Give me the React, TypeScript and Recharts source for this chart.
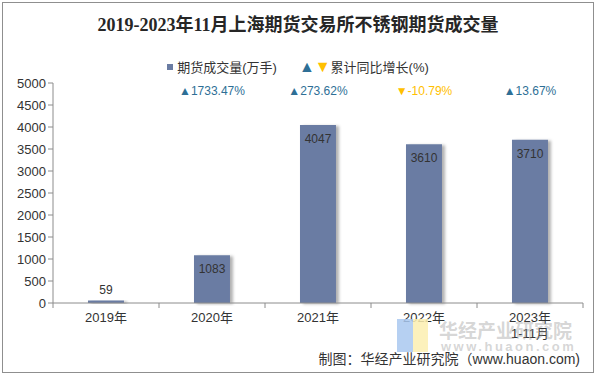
import { BarChart, Bar, XAxis, YAxis, LabelList } from "recharts";

const YEARS = ["2019年", "2020年", "2021年", "2022年", "2023年"];
const SUB_LABELS = ["", "", "", "", "1-11月"];
const VOLUME = [59, 1083, 4047, 3610, 3710];
const GROWTH: (number | null)[] = [null, 1733.47, 273.62, -10.79, 13.67];
const Y_TICKS = [0, 500, 1000, 1500, 2000, 2500, 3000, 3500, 4000, 4500, 5000];

const BAR_COLOR = "#6a7ca3";
const UP_COLOR = "#2e6f96";
const DOWN_COLOR = "#ffc000";
const TEXT_COLOR = "#333333";
const AXIS_COLOR = "#8c8c8c";

const W = 596;
const H = 375;
const PLOT_LEFT = 53;
const PLOT_RIGHT = 13;
const PLOT_TOP = 83;
const PLOT_BOTTOM = 72;
const BAND = (W - PLOT_LEFT - PLOT_RIGHT) / YEARS.length;
const GROWTH_ROW_Y = 91;

const data = YEARS.map((year, i) => ({
  year,
  sub: SUB_LABELS[i],
  volume: VOLUME[i],
  growth: GROWTH[i],
}));

const FONT = "'Liberation Sans', Arial, 'Noto Sans CJK SC', sans-serif";

function XTick(props: any) {
  const { x, y, payload, index } = props;
  const row = data[index];
  return (
    <g>
      {index === 0 ? (
        <line x1={x - BAND / 2} y1={y - 8} x2={x - BAND / 2} y2={y - 3} stroke={AXIS_COLOR} />
      ) : null}
      <line x1={x + BAND / 2} y1={y - 8} x2={x + BAND / 2} y2={y - 3} stroke={AXIS_COLOR} />
      <text x={x} y={y + 11} textAnchor="middle" fontSize={13} fill={TEXT_COLOR} fontFamily={FONT}>
        {payload.value}
      </text>
      {row && row.sub ? (
        <text x={x} y={y + 27} textAnchor="middle" fontSize={13} fill={TEXT_COLOR} fontFamily={FONT}>
          {row.sub}
        </text>
      ) : null}
    </g>
  );
}

function ValueLabel(props: any) {
  const { x, y, width, value } = props;
  const small = value < 300;
  return (
    <text
      x={x + width / 2}
      y={small ? y - 10 : y + 14}
      textAnchor="middle"
      dominantBaseline="central"
      fontSize={12}
      fill={TEXT_COLOR}
      fontFamily={FONT}
    >
      {value}
    </text>
  );
}

function GrowthLabel(props: any) {
  const { x, width, value } = props;
  if (value === null || value === undefined) return null;
  const up = value >= 0;
  return (
    <text
      x={x + width / 2}
      y={GROWTH_ROW_Y}
      textAnchor="middle"
      dominantBaseline="central"
      fontSize={12}
      fill={up ? UP_COLOR : DOWN_COLOR}
      fontFamily={FONT}
    >
      {(up ? "▲" : "▼") + value.toFixed(2) + "%"}
    </text>
  );
}

function LegendRow() {
  return (
    <div
      style={{
        position: "absolute",
        top: 57,
        left: 0,
        width: W,
        display: "flex",
        justifyContent: "center",
        alignItems: "center",
        fontSize: 13,
        color: TEXT_COLOR,
        fontFamily: FONT,
        whiteSpace: "nowrap",
      }}
    >
      <span style={{ display: "inline-block", width: 6, height: 6, background: BAR_COLOR, marginRight: 4 }} />
      <span>期货成交量(万手)</span>
      <span style={{ color: UP_COLOR, marginLeft: 22, fontSize: 16, lineHeight: "16px" }}>▲</span>
      <span style={{ color: DOWN_COLOR, fontSize: 16, lineHeight: "16px" }}>▼</span>
      <span>累计同比增长(%)</span>
    </div>
  );
}

export default function App() {
  return (
    <div style={{ position: "absolute", left: 0, top: 0, width: W, height: H, background: "#fff", overflow: "hidden" }}>
      <div
        style={{
          position: "absolute",
          left: 2,
          top: 2,
          width: W - 6,
          height: H - 6,
          border: "1px solid #8f8f8f",
        }}
      />
      <div
        style={{
          position: "absolute",
          top: 10,
          left: 0,
          width: W,
          textAlign: "center",
          fontSize: 18,
          fontWeight: "bold",
          color: "#262626",
          fontFamily: "'Liberation Serif', 'Noto Sans CJK SC', serif",
        }}
      >
        2019-2023年11月上海期货交易所不锈钢期货成交量
      </div>
      <LegendRow />
      <div style={{ position: "absolute", left: 0, top: 0 }}>
        <BarChart
          width={W}
          height={H}
          data={data}
          margin={{ top: PLOT_TOP, right: PLOT_RIGHT, bottom: PLOT_BOTTOM - 40, left: 0 }}
          barCategoryGap="33%"
        >
          <defs>
            <filter id="barShadow" x="-20%" y="-5%" width="150%" height="110%">
              <feDropShadow dx={3} dy={1} stdDeviation={1.6} floodColor="#000" floodOpacity={0.3} />
            </filter>
          </defs>
          <XAxis
            dataKey="year"
            height={40}
            tickLine={false}
            stroke={AXIS_COLOR}
            tick={<XTick />}
            interval={0}
          />
          <YAxis
            width={PLOT_LEFT}
            domain={[0, 5000]}
            ticks={Y_TICKS}
            interval={0}
            stroke={AXIS_COLOR}
            tickSize={5}
            tick={{ fontSize: 13, fill: TEXT_COLOR, fontFamily: FONT }}
          />
          <Bar dataKey="volume" fill={BAR_COLOR} isAnimationActive={false} filter="url(#barShadow)">
            <LabelList dataKey="volume" content={<ValueLabel />} />
            <LabelList dataKey="growth" content={<GrowthLabel />} />
          </Bar>
        </BarChart>
      </div>
      {/* watermark */}
      <div style={{ position: "absolute", left: 397, top: 319, width: 16, height: 33, background: "#a9c8f0", opacity: 0.85 }} />
      <div style={{ position: "absolute", left: 413, top: 319, width: 15, height: 33, background: "#fbeeb0", opacity: 0.85 }} />
      <div
        style={{
          position: "absolute",
          left: 439,
          top: 318,
          fontSize: 19,
          fontWeight: "bold",
          color: "rgba(150,150,150,0.4)",
          fontFamily: "'Noto Sans CJK SC', sans-serif",
          lineHeight: "24px",
          whiteSpace: "nowrap",
        }}
      >
        华经产业研究院
      </div>
      <div
        style={{
          position: "absolute",
          left: 441,
          top: 339,
          fontSize: 13,
          fontWeight: "bold",
          color: "rgba(150,150,150,0.4)",
          fontFamily: FONT,
          letterSpacing: 2.5,
          lineHeight: "16px",
          whiteSpace: "nowrap",
        }}
      >
        www.huaon.com
      </div>
      <div
        style={{
          position: "absolute",
          right: 16,
          top: 348,
          fontSize: 14,
          color: TEXT_COLOR,
          fontFamily: FONT,
          whiteSpace: "nowrap",
        }}
      >
        制图：华经产业研究院（www.huaon.com)
      </div>
    </div>
  );
}
